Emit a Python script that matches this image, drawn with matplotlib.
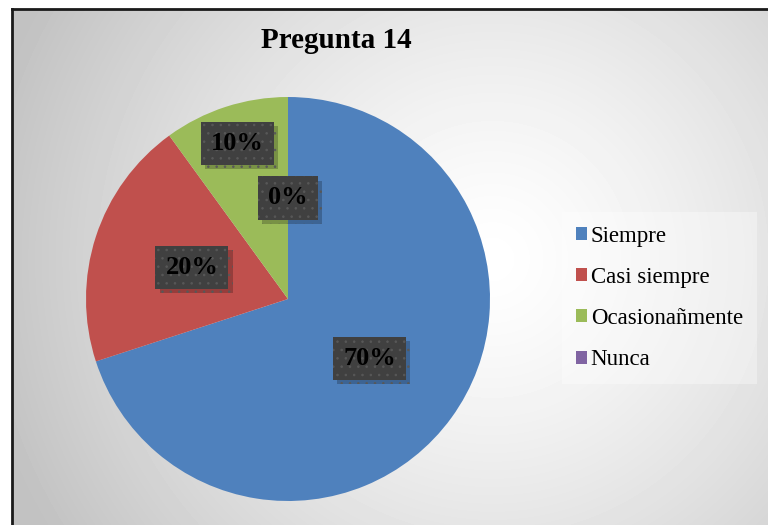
import numpy as np
import matplotlib.pyplot as plt
import matplotlib.patheffects as pe

# datos de la pregunta
categorias = ["Siempre", "Casi siempre", "Ocasionañmente", "Nunca"]
porcentajes = [70, 20, 10, 0]
colores = ["#4F81BD", "#C0504D", "#9BBB59", "#8064A2"]
dist_etiqueta = [0.5, 0.5, 0.81, 0.5]

plt.rcParams["hatch.linewidth"] = 0.6

W, H = 768, 525
fig = plt.figure(figsize=(W / 100, H / 100), dpi=100)

# fondo con degradado radial
bg = fig.add_axes([12 / W, 0, 1 - 12 / W, 1 - 9 / H])
ny, nx = 516, 756
yy, xx = np.mgrid[0:ny, 0:nx]
cx, cy = 480, 250
r = np.hypot(xx - cx, yy - cy) / 520
val = 1 - 0.24 * np.clip(r, 0, 1) ** 1.3
bg.imshow(val, cmap="gray", vmin=0, vmax=1, aspect="auto", extent=[0, 1, 0, 1])
bg.set_xticks([])
bg.set_yticks([])
for s in ["right", "bottom"]:
    bg.spines[s].set_visible(False)
for s in ["left", "top"]:
    bg.spines[s].set_linewidth(2)
    bg.spines[s].set_color("#1a1a1a")

# pastel
R = 202
cxp, cyp = 288, 299
ax = fig.add_axes([(cxp - R) / W, (H - cyp - R) / H, 2 * R / W, 2 * R / H])
wedges, _ = ax.pie(porcentajes, colors=colores, startangle=90, counterclock=False,
                   radius=1, wedgeprops=dict(linewidth=0))
ax.set_xlim(-1, 1)
ax.set_ylim(-1, 1)
ax.set_aspect("equal")
ax.axis("off")

# etiquetas de porcentaje con caja sombreada
total = sum(porcentajes)
acum = 0
sombra = [pe.SimplePatchShadow(offset=(3, -3), shadow_rgbFace="black", alpha=0.22),
          pe.Normal()]
for v, d in zip(porcentajes, dist_etiqueta):
    mid = acum + v / 2
    acum += v
    ang = np.deg2rad(90 - 360 * mid / total)
    x, y = d * np.cos(ang), d * np.sin(ang)
    ax.text(x, y, f"{v}%", ha="center", va="center", fontsize=19, fontweight="bold",
            family="Liberation Serif", color="black",
            bbox=dict(boxstyle="square,pad=0.38", facecolor="#404040",
                      edgecolor="#585858", hatch="..", linewidth=0,
                      path_effects=sombra))

fig.text(336 / W, 1 - 40 / H, "Pregunta 14", ha="center", va="center",
         fontsize=21, fontweight="bold", family="Liberation Serif")

leg = fig.legend(wedges, categorias, loc="center left",
                 bbox_to_anchor=(562 / W, 1 - 298 / H),
                 prop=dict(family="Liberation Serif", size=16.5),
                 handlelength=0.5, handleheight=0.5, handletextpad=0.15,
                 labelspacing=0.88, borderpad=0.6, borderaxespad=0,
                 fancybox=False, frameon=True)
leg.get_frame().set_facecolor("white")
leg.get_frame().set_alpha(0.35)
leg.get_frame().set_linewidth(0)

fig.savefig("out.png", dpi=100)
